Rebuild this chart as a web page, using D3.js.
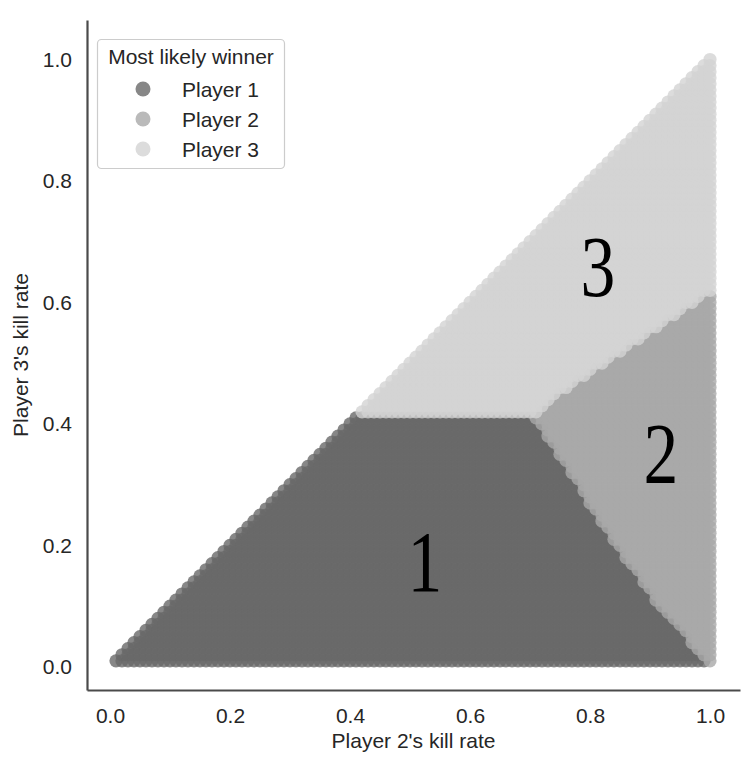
<!DOCTYPE html>
<html>
<head>
<meta charset="utf-8">
<script src="https://cdn.jsdelivr.net/npm/d3@7"></script>
<style>
  body { margin: 0; background: #fff; }
  text { font-family: "Liberation Sans", Arial, sans-serif; fill: #262626; }
</style>
</head>
<body>
<svg id="chart" width="751" height="757"></svg>
<script>

// kill rates tried for players 2 and 3, steps of 0.01
let kill_rates = d3.range(1, 101).map(i => i / 100)

let winners = ["Player 1", "Player 2", "Player 3"],
    winner_colors = ["#696969", "#a9a9a9", "#d3d3d3"]

// edge between the player 1 and player 2 regions
let edge12_p3 = [0.01, 0.04, 0.10, 0.18, 0.26, 0.35, 0.41],
    edge12_p2 = [0.995, 0.97, 0.915, 0.86, 0.805, 0.75, 0.71]

// lowest player 3 rate where player 3 wins, by player 2 rate
let edge3_p2 = [0.00, 0.71, 0.72, 0.86, 1.00],
    edge3_p3 = [0.42, 0.42, 0.43, 0.525, 0.62]

let p1_top = 0.41

let region_labels = ["1", "2", "3"],
    label_p2 = [0.525, 0.918, 0.813],
    label_p3 = [0.125, 0.303, 0.61]

let x_ticks = [0, 0.2, 0.4, 0.6, 0.8, 1.0],
    y_ticks = [0, 0.2, 0.4, 0.6, 0.8, 1.0]

let plot = {left: 87, right: 740, top: 20, bottom: 690},
    font_size = "21px"


function make_points() {
  let edge12 = d3.scaleLinear().domain(edge12_p3).range(edge12_p2).clamp(true),
      edge3 = d3.scaleLinear().domain(edge3_p2).range(edge3_p3).clamp(true),
      eps = 1e-9

  let points = []
  kill_rates.forEach(p2 => {
    kill_rates.filter(p3 => p3 <= p2 + eps).forEach(p3 => {
      let w
      if (p3 >= edge3(p2) - eps) w = 2
      else if (p3 <= p1_top + eps && p2 < edge12(p3) - eps) w = 0
      else w = 1
      points.push({p2: p2, p3: p3, winner: w})
    })
  })
  // later players drawn on top
  return points.sort((a, b) => a.winner - b.winner)
}


function make_scales() {
  return {
    x: d3.scaleLinear()
         .domain([-0.0383, 1.05])
         .range([plot.left, plot.right]),
    y: d3.scaleLinear()
         .domain([-0.038, 1.065])
         .range([plot.bottom, plot.top])
  }
}


function draw_points(svg, points, scales) {
  svg.append("g")
    .selectAll("circle")
    .data(points).enter()
    .append("circle")
    .attr("cx", d => scales.x(d.p2))
    .attr("cy", d => scales.y(d.p3))
    .attr("r", 6.6)
    .attr("fill", d => winner_colors[d.winner])
    .attr("fill-opacity", 0.8)

  // big region numbers, squeezed a bit like the original
  svg.append("g")
    .selectAll("text")
    .data(region_labels).enter()
    .append("text")
    .attr("transform", (d, i) =>
      `translate(${scales.x(label_p2[i])},${scales.y(label_p3[i])}) scale(0.8,1)`)
    .attr("text-anchor", "middle")
    .style("font-family", "'Liberation Serif', serif")
    .style("font-size", "87px")
    .style("fill", "#000")
    .text(d => d)
}


function add_axes(svg, scales) {
  let x_axis = d3.axisBottom(scales.x)
        .tickValues(x_ticks).tickFormat(d3.format(".1f"))
        .tickSize(0).tickSizeOuter(0).tickPadding(18),
      y_axis = d3.axisLeft(scales.y)
        .tickValues(y_ticks).tickFormat(d3.format(".1f"))
        .tickSize(0).tickSizeOuter(0).tickPadding(15)

  svg.append("g")
    .attr("transform", `translate(0,${plot.bottom})`)
    .call(x_axis)
  svg.append("g")
    .attr("transform", `translate(${plot.left},0)`)
    .call(y_axis)

  svg.selectAll(".domain")
    .attr("stroke", "#4a4a4a")
    .attr("stroke-width", 2.2)
  svg.selectAll(".tick text")
    .attr("fill", "#262626")
    .style("font-size", font_size)
    .style("font-family", "'Liberation Sans', Arial, sans-serif")

  svg.append("text")
    .attr("x", (plot.left + plot.right) / 2)
    .attr("y", 748)
    .attr("text-anchor", "middle")
    .style("font-size", font_size)
    .text("Player 2's kill rate")

  svg.append("text")
    .attr("transform", `translate(28,${(plot.top + plot.bottom) / 2}) rotate(-90)`)
    .attr("text-anchor", "middle")
    .style("font-size", font_size)
    .text("Player 3's kill rate")
}


function add_legend(svg) {
  let g = svg.append("g")

  g.append("rect")
    .attr("x", 97.5).attr("y", 39.5)
    .attr("width", 187).attr("height", 129)
    .attr("rx", 4)
    .attr("fill", "#fff").attr("fill-opacity", 0.8)
    .attr("stroke", "#cccccc").attr("stroke-width", 1.2)

  g.append("text")
    .attr("x", 191).attr("y", 64)
    .attr("text-anchor", "middle")
    .style("font-size", font_size)
    .text("Most likely winner")

  let rows = g.selectAll(".row")
    .data(winners).enter()
    .append("g")
    .attr("transform", (d, i) => `translate(0,${89 + i * 30})`)

  rows.append("circle")
    .attr("cx", 143).attr("cy", 0).attr("r", 7.5)
    .attr("fill", (d, i) => winner_colors[i])
    .attr("fill-opacity", 0.8)

  rows.append("text")
    .attr("x", 182).attr("y", 0).attr("dy", "0.36em")
    .style("font-size", font_size)
    .text(d => d)
}


function visualize() {
  let svg = d3.select("#chart")
  let scales = make_scales()
  draw_points(svg, make_points(), scales)
  add_axes(svg, scales)
  add_legend(svg)
}

visualize()
</script>
</body>
</html>
